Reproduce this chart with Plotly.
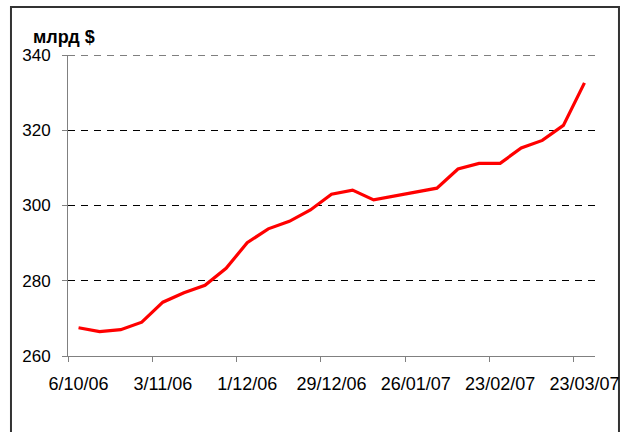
import plotly.graph_objects as go

dates = ["6/10/06", "13/10/06", "20/10/06", "27/10/06", "3/11/06", "10/11/06", "17/11/06",
         "24/11/06", "1/12/06", "8/12/06", "15/12/06", "22/12/06", "29/12/06", "5/01/07",
         "12/01/07", "19/01/07", "26/01/07", "2/02/07", "9/02/07", "16/02/07", "23/02/07",
         "2/03/07", "9/03/07", "16/03/07", "23/03/07"]
values = [267.5, 266.5, 267.0, 269.0, 274.3, 276.8, 278.8, 283.3, 290.1, 293.8, 295.8,
          298.8, 303.0, 304.1, 301.5, 302.6, 303.6, 304.6, 309.7, 311.2, 311.2, 315.3,
          317.3, 321.3, 332.6]
tick_labels = ["6/10/06", "3/11/06", "1/12/06", "29/12/06", "26/01/07", "23/02/07", "23/03/07"]
y_min, y_max, y_step = 260, 340, 20
y_title = "млрд $"

FONT = "Liberation Sans, Arial, sans-serif"
n = len(dates)
label_pos = [dates.index(t) for t in tick_labels]
boundary_pos = [p - 0.5 for p in label_pos]

fig = go.Figure()
fig.add_trace(go.Scatter(x=dates, y=values, mode="lines",
                         line=dict(color="#ff0000", width=3.2), showlegend=False,
                         hoverinfo="skip"))
# invisible trace to activate the overlay axis used for boundary tick marks
fig.add_trace(go.Scatter(x=[-0.5, n - 0.5], y=[None, None], xaxis="x2", mode="lines",
                         showlegend=False, hoverinfo="skip"))

fig.update_layout(
    width=627, height=432,
    margin=dict(l=68, r=32, t=55, b=76, autoexpand=False),
    paper_bgcolor="white", plot_bgcolor="white",
    font=dict(family=FONT, size=17, color="black"),
    xaxis=dict(type="category", range=[-0.5, n - 0.5], automargin=False,
               tickmode="array", tickvals=tick_labels, ticktext=tick_labels,
               ticks="", showgrid=False, zeroline=False,
               showline=True, linecolor="#808080", linewidth=1,
               tickfont=dict(family=FONT, size=18, color="black"),
               ticklabelstandoff=11),
    xaxis2=dict(type="linear", range=[-0.5, n - 0.5], overlaying="x", automargin=False,
                tickmode="array", tickvals=boundary_pos, showticklabels=False,
                ticks="outside", ticklen=5, tickcolor="#808080", tickwidth=1,
                showgrid=False, zeroline=False, showline=False, side="bottom"),
    yaxis=dict(range=[y_min, y_max], tickmode="linear", tick0=y_min, dtick=y_step,
               automargin=False,
               showgrid=True, gridcolor="black", gridwidth=1, griddash="7px,6px",
               zeroline=False, showline=True, linecolor="#808080", linewidth=1,
               ticks="outside", ticklen=5, tickcolor="#808080",
               tickfont=dict(family=FONT, size=17, color="black"),
               ticklabelstandoff=8),
    shapes=[dict(type="rect", xref="paper", yref="paper",
                 x0=-0.1082, x1=1.0455, y0=-0.30, y1=1.1595,
                 line=dict(color="#333333", width=2), fillcolor="rgba(0,0,0,0)",
                 layer="below"),
            # top gridline (Plotly hides a gridline lying on the plot edge)
            dict(type="line", xref="paper", yref="y", x0=0, x1=1, y0=y_max, y1=y_max,
                 line=dict(color="black", width=1, dash="7px,6px"), layer="below")],
    annotations=[dict(text="<b>" + y_title + "</b>", xref="paper", yref="paper",
                      x=-0.0702, y=1.0598, xanchor="left", yanchor="middle",
                      showarrow=False, font=dict(family=FONT, size=18, color="black"))],
)

fig.write_html("out.html", config={"displayModeBar": False},
               post_script="document.body.style.margin='0';")
